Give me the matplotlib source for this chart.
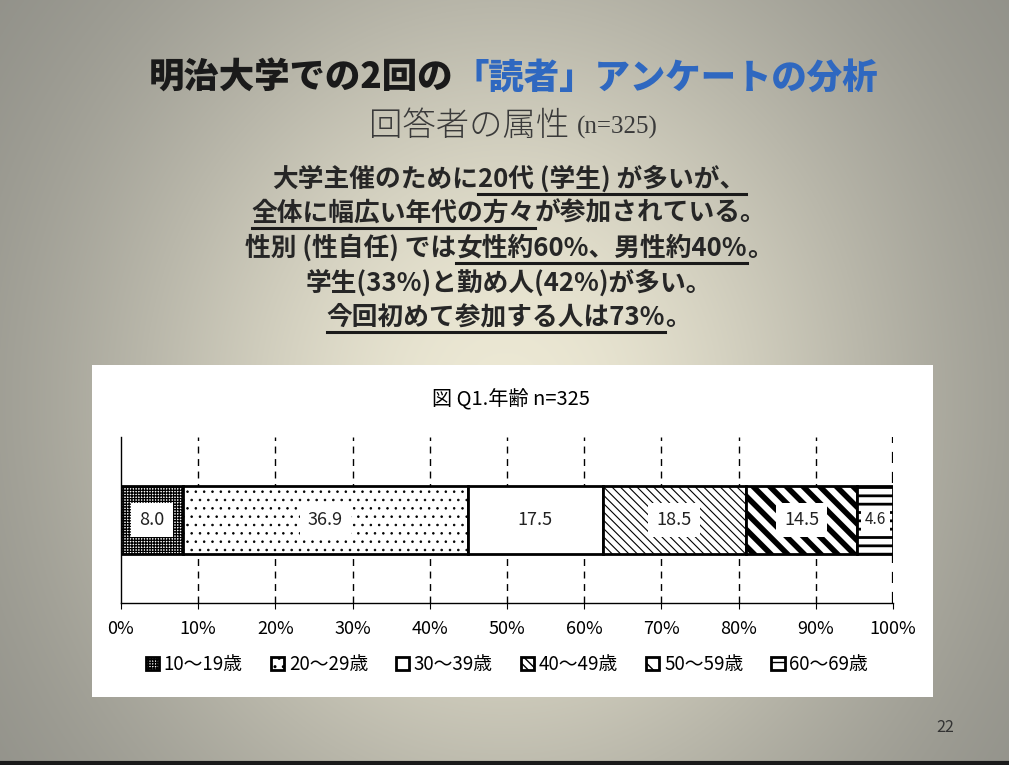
import numpy as np
import matplotlib
matplotlib.use("Agg")
import matplotlib.pyplot as plt
from matplotlib.lines import Line2D
from matplotlib.patches import Rectangle

# データ
age_groups = ["10～19歳", "20～29歳", "30～39歳", "40～49歳", "50～59歳", "60～69歳"]
shares = [8.0, 36.9, 17.5, 18.5, 14.5, 4.6]
tick_labels = ["0%", "10%", "20%", "30%", "40%", "50%", "60%", "70%", "80%", "90%", "100%"]
chart_title = "図 Q1.年齢 n=325"

JP = ["Noto Sans CJK JP", "DejaVu Sans"]
W, H = 1009, 765

fig = plt.figure(figsize=(W / 100, H / 100), dpi=100)

# 背景グラデーション
bg = fig.add_axes([0, 0, 1, 1], zorder=-10)
yy, xx = np.mgrid[0:H, 0:W]
d2 = ((xx - 505) / 450.0) ** 2 + ((yy - 400) / 490.0) ** 2
t = np.exp(-d2 / 0.93)
light = np.array([236, 232, 212]) / 255
dark = np.array([134, 134, 128]) / 255
img = dark + (light - dark) * t[..., None]
bg.imshow(img, extent=[0, W, H, 0], aspect="auto")
bg.set_xlim(0, W)
bg.set_ylim(H, 0)
bg.axis("off")
bg.add_patch(Rectangle((92, 365), 841, 332, facecolor="white", edgecolor="none"))
bg.plot([0, W], [763, 763], color="#1a1a1a", lw=3)
bg.text(945, 727, "22", fontsize=11.5, color="#333333", ha="center", va="center", family=JP)

renderer = fig.canvas.get_renderer()


def rich_line(y_px, parts, weight="bold", cx=509, ul_off=15):
    texts = []
    for s, color, ul, fam, size in parts:
        tx = fig.text(0, 1 - y_px / H, s, fontsize=size, fontweight=weight,
                      family=fam, color=color, ha="left", va="center")
        texts.append(tx)
    widths = [tx.get_window_extent(renderer).width for tx in texts]
    x = cx - sum(widths) / 2
    for tx, w, p in zip(texts, widths, parts):
        tx.set_x(x / W)
        if p[2]:
            yb = H - (y_px + ul_off)
            fig.add_artist(Line2D([x / W, (x + w) / W], [yb / H, yb / H],
                                  transform=fig.transFigure, color="#1a1a1a", lw=2.2))
        x += w


# タイトル
blue = "#2f68c0"
rich_line(78, [("明治大学での2回の", "#1a1a1a", False, JP, 25.5),
               ("「読者」アンケートの分析", blue, False, JP, 25.5)], weight="heavy", cx=513)
rich_line(127, [("回答者の属性 ", "#3a3a3a", False, JP, 24),
                ("(n=325)", "#3a3a3a", False, ["Liberation Serif"], 18)], weight="light", cx=513)

# 本文
tc = "#262626"
bs = 18.5
rich_line(179, [("大学主催のために", tc, False, JP, bs), ("20代 (学生) が多いが、", tc, True, JP, bs)])
rich_line(213, [("全体に幅広い年代の方々", tc, True, JP, bs), ("が参加されている。", tc, False, JP, bs)])
rich_line(248, [("性別 (性自任) では", tc, False, JP, bs), ("女性約60%、男性約40%", tc, True, JP, bs),
                ("。", tc, False, JP, bs)])
rich_line(283, [("学生(33%)と勤め人(42%)が多い。", tc, False, JP, bs)])
rich_line(317, [("今回初めて参加する人は73%", tc, True, JP, bs), ("。", tc, False, JP, bs)])

# グラフ
ax = fig.add_axes([121 / W, 1 - 603 / H, 772 / W, 166 / H])
hatches = ["++++++", "..", "", "\\\\\\\\", "\\\\", "--"]
hlw = [0.9, 0.6, 1.0, 0.8, 4.0, 2.0]
left = 0.0
for i, (name, v) in enumerate(zip(age_groups, shares)):
    b = ax.barh(0.5, v, left=left, height=0.41, color="white", edgecolor="black",
                linewidth=2, hatch=hatches[i], label=name, zorder=3)
    for p in b:
        try:
            p.set_hatch_linewidth(hlw[i])
        except AttributeError:
            pass
    ax.text(left + v / 2, 0.5, f"{v:.1f}", ha="center", va="center",
            fontsize=13 if v > 5 else 11, family=JP, color="#222222", zorder=5,
            bbox=dict(facecolor="white", edgecolor="none",
                      boxstyle="square,pad=0.45" if v > 5 else "square,pad=0.25"))
    left += v

ax.set_xlim(0, 100)
ax.set_ylim(0, 1)
ax.set_xticks(np.arange(0, 101, 10))
ax.set_xticklabels(tick_labels, family=JP, fontsize=13)
ax.set_yticks([])
ax.tick_params(axis="x", length=4, pad=8)
for x in np.arange(10, 101, 10):
    ax.axvline(x, color="black", lw=1.6 if x == 100 else 1, ls=(0, (5, 4)), zorder=1)
for s in ["top", "right"]:
    ax.spines[s].set_visible(False)
ax.spines["left"].set_linewidth(1)
ax.spines["bottom"].set_linewidth(1)
ax.patch.set_alpha(0)

fig.text(511 / W, 1 - 400 / H, chart_title, ha="center", va="center", fontsize=14.5, family=JP)

leg = ax.legend(loc="center", bbox_to_anchor=(0.5, -0.37), ncol=6, frameon=False,
                prop={"family": JP, "size": 13.5}, handlelength=0.7, handleheight=0.7,
                handletextpad=0.25, columnspacing=1.5)

fig.savefig("out.png", dpi=100)
